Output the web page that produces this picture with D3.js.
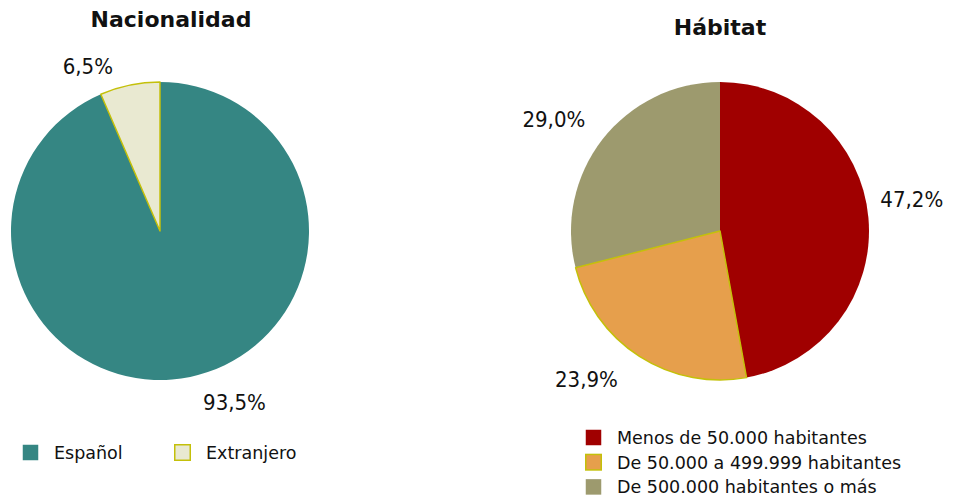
<!DOCTYPE html>
<html>
<head>
<meta charset="utf-8">
<script src="https://cdn.jsdelivr.net/npm/d3@7"></script>
<style>
  body { margin: 0; background: #fff; }
  text { font-family: "DejaVu Sans", Verdana, sans-serif; fill: #111; }
</style>
</head>
<body>
<div id="vis"></div>
<script>
// data
let nacCategories = ['Español', 'Extranjero']
let nacValues = [93.5, 6.5]
let nacColors = ['#358683', '#e9e9d1']
let nacStrokes = ['none', '#c4c00a']

let habCategories = ['Menos de 50.000 habitantes', 'De 50.000 a 499.999 habitantes', 'De 500.000 habitantes o más']
let habValues = [47.2, 23.9, 29.0]
let habColors = ['#a00000', '#e69f4c', '#9d9a6e']
let habStrokes = ['none', '#c4c00a', 'none']

let width = 953, height = 500

let svg = d3.select('#vis')
  .append('svg')
  .attr('width', width)
  .attr('height', height)

let fmt = v => d3.format('.1f')(v).replace('.', ',') + '%'

// draws one pie with its title and outside labels
// nudge = small per-label shift, the way excel places "best fit" labels
function drawPie(cx, cy, r, title, titleX, titleY, values, colors, strokes, nudge) {
  let g = svg.append('g').attr('transform', `translate(${cx},${cy})`)
  let pie = d3.pie().sort(null).value(d => d)
  let arcs = pie(values).map((a, i) => Object.assign(a, { i: i }))
  let arc = d3.arc().innerRadius(0).outerRadius(r)

  // stroked slices last so the outline sits on top
  let ordered = arcs.slice().sort((a, b) => (strokes[a.i] !== 'none') - (strokes[b.i] !== 'none'))
  g.selectAll('path')
    .data(ordered)
    .join('path')
    .attr('d', arc)
    .attr('fill', d => colors[d.i])
    .attr('stroke', d => strokes[d.i])
    .attr('stroke-width', 1.5)
    .attr('stroke-linejoin', 'round')

  // labels just outside the rim
  let cap = 16
  g.selectAll('text.lbl')
    .data(arcs)
    .join('text')
    .attr('class', 'lbl')
    .each(function (d) {
      let m = (d.startAngle + d.endAngle) / 2
      let s = Math.sin(m), c = Math.cos(m)
      let x = (r + 14) * s
      let y = -(r + 14) * c
      let anchor = s > 0.15 ? 'start' : (s < -0.15 ? 'end' : 'middle')
      d3.select(this)
        .attr('x', x - (anchor === 'end' ? 6 : 0) + (anchor === 'start' ? 4 : 0) + nudge[d.i][0])
        .attr('y', y + cap * (1 - c) / 2 - (Math.abs(c) < 0.3 ? 10 : 0) + nudge[d.i][1])
        .attr('text-anchor', anchor)
    })
    .style('font-family', '"DejaVu Sans Condensed", "DejaVu Sans", sans-serif')
    .style('font-stretch', 'condensed')
    .style('font-size', '22px')
    .text(d => fmt(d.data))

  svg.append('text')
    .attr('x', titleX)
    .attr('y', titleY)
    .attr('text-anchor', 'middle')
    .style('font-weight', 'bold')
    .style('font-size', '22px')
    .text(title)
}

drawPie(160, 231, 149, 'Nacionalidad', 171, 27, nacValues, nacColors, nacStrokes, [[6, 4], [-8, 2]])
drawPie(720, 231, 149, 'Hábitat', 720, 35, habValues, habColors, habStrokes, [[-6, -7], [-8, 4], [0, -7]])

// left legend, in a row
let legL = svg.append('g').attr('transform', 'translate(22,444)')
let itemL = legL.selectAll('g')
  .data(nacCategories)
  .join('g')
  .attr('transform', (d, i) => `translate(${i * 152},0)`)
itemL.append('rect')
  .attr('x', 0.75).attr('y', 0.75)
  .attr('width', 15.5).attr('height', 15.5)
  .attr('fill', (d, i) => nacColors[i])
  .attr('stroke', (d, i) => nacStrokes[i])
  .attr('stroke-width', 1.5)
itemL.append('text')
  .attr('x', 32)
  .attr('y', 15)
  .style('font-size', '17.5px')
  .text(d => d)

// right legend, stacked
let legR = svg.append('g').attr('transform', 'translate(585,429)')
let itemR = legR.selectAll('g')
  .data(habCategories)
  .join('g')
  .attr('transform', (d, i) => `translate(0,${i * 24.7})`)
itemR.append('rect')
  .attr('x', 0.75).attr('y', 0.75)
  .attr('width', 15.5).attr('height', 15.5)
  .attr('fill', (d, i) => habColors[i])
  .attr('stroke', (d, i) => habStrokes[i])
  .attr('stroke-width', 1.5)
itemR.append('text')
  .attr('x', 32)
  .attr('y', 15)
  .style('font-size', '17.5px')
  .text(d => d)
</script>
</body>
</html>
